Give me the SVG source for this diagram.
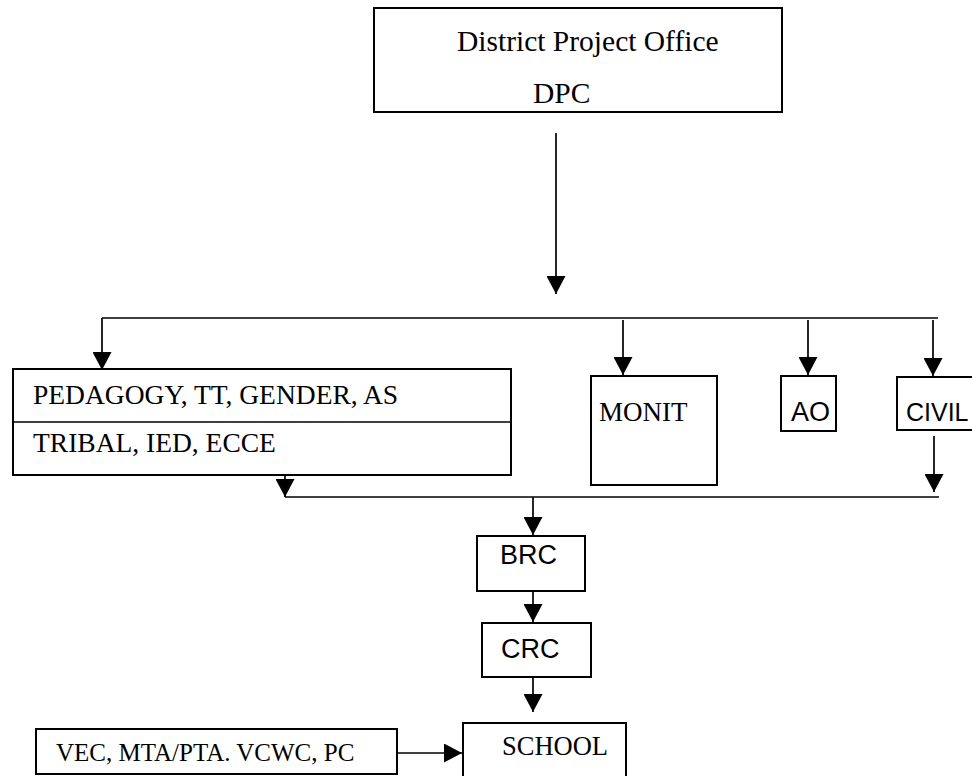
<svg xmlns="http://www.w3.org/2000/svg" width="972" height="776" viewBox="0 0 972 776">
<style>
.box{fill:#fff;stroke:#000;stroke-width:2}
.ln{fill:none;stroke:#000;stroke-width:1.7}
.serif{font-family:"Liberation Serif","Times New Roman",serif;fill:#000}
.sans{font-family:"Liberation Sans",Arial,sans-serif;fill:#000}
</style>
<defs>
<marker id="ah" markerUnits="userSpaceOnUse" markerWidth="18" markerHeight="19" refX="18" refY="9.5" orient="auto">
<path d="M0,0 L18,9.5 L0,19 z" fill="#000"/>
</marker>
</defs>
<rect width="972" height="776" fill="#fff"/>
<g id="connectors">
<path class="ln" d="M556,133 V294" marker-end="url(#ah)"/>
<path class="ln" d="M102,318 H938"/>
<path class="ln" d="M102,318 V370" marker-end="url(#ah)"/>
<path class="ln" d="M623,320 V375" marker-end="url(#ah)"/>
<path class="ln" d="M808,320 V375" marker-end="url(#ah)"/>
<path class="ln" d="M933,320 V376" marker-end="url(#ah)"/>
<path class="ln" d="M285,475 V497" marker-end="url(#ah)"/>
<path class="ln" d="M934,436 V492" marker-end="url(#ah)"/>
<path class="ln" d="M285,497 H939"/>
<path class="ln" d="M533,497 V535" marker-end="url(#ah)"/>
<path class="ln" d="M533,591 V622" marker-end="url(#ah)"/>
<path class="ln" d="M533,677 V712" marker-end="url(#ah)"/>
<path class="ln" d="M397,753 H462" marker-end="url(#ah)"/>
</g>
<g id="dpo">
<rect class="box" x="374" y="8" width="408" height="104"/>
<text class="serif" x="457" y="51" font-size="29.5">District Project Office</text>
<text class="serif" x="533" y="103" font-size="29.5">DPC</text>
</g>
<g id="pedagogy">
<rect class="box" x="13" y="369" width="498" height="106"/>
<line class="ln" x1="13" y1="422" x2="511" y2="422" stroke-width="2"/>
<text class="serif" x="33" y="404" font-size="27.5">PEDAGOGY, TT, GENDER, AS</text>
<text class="serif" x="33" y="452" font-size="27.5">TRIBAL, IED, ECCE</text>
</g>
<g id="monit">
<rect class="box" x="591" y="376" width="126" height="109"/>
<text class="serif" x="599" y="421" font-size="27">MONIT</text>
</g>
<g id="ao">
<rect class="box" x="781" y="376" width="55" height="55"/>
<text class="sans" x="791" y="421" font-size="27">AO</text>
</g>
<g id="civil">
<rect class="box" x="897" y="377" width="100" height="53"/>
<text class="sans" x="906" y="421" font-size="25">CIVIL</text>
</g>
<g id="brc">
<rect class="box" x="477" y="536" width="108" height="55"/>
<text class="sans" x="500" y="564" font-size="27">BRC</text>
</g>
<g id="crc">
<rect class="box" x="482" y="623" width="109" height="54"/>
<text class="sans" x="501" y="658" font-size="27">CRC</text>
</g>
<g id="school">
<rect class="box" x="463" y="723" width="163" height="70"/>
<text class="serif" x="502" y="755" font-size="26.5">SCHOOL</text>
</g>
<g id="vec">
<rect class="box" x="36" y="729" width="361" height="45"/>
<text class="serif" x="56" y="761" font-size="25">VEC, MTA/PTA. VCWC, PC</text>
</g>
</svg>
